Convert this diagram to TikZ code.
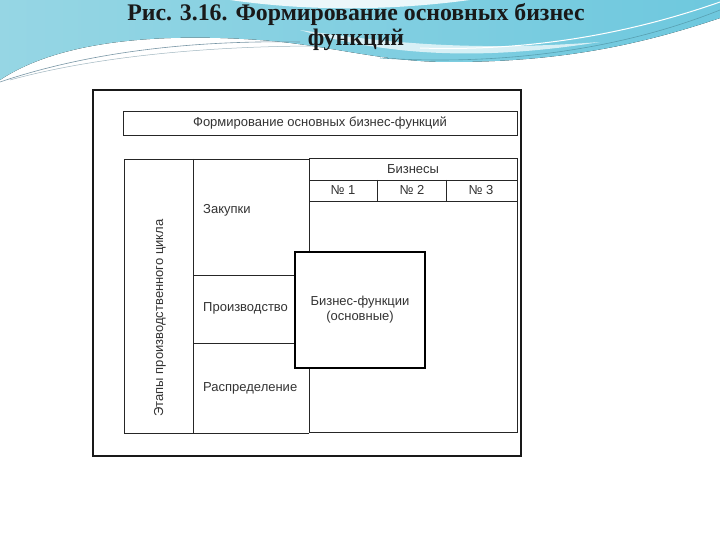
\documentclass[tikz,border=0pt]{standalone}
\usepackage{fontspec}
\setmainfont{Liberation Serif}
\newfontfamily\diagfont{Liberation Sans}
\begin{document}
\begin{tikzpicture}[x=1pt,y=-1pt,
  frame/.style={draw=black!90,line width=1.1pt},
  cell/.style={draw=black!85,line width=0.8pt},
  lbl/.style={font=\diagfont\fontsize{13}{15}\selectfont,text=black!80,inner sep=0pt},
  ttl/.style={font=\bfseries\fontsize{23.8}{24.5}\selectfont,text=black!90,align=center,inner sep=0pt}]
\definecolor{cyanA}{RGB}{150,214,228}
\definecolor{cyanB}{RGB}{110,200,222}
\definecolor{streak}{RGB}{120,150,165}
\useasboundingbox (0,0) rectangle (720,540);
\fill[white] (0,0) rectangle (720,540);
% background swoosh
\fill[left color=cyanA,right color=cyanB]
  (0,0) -- (720,0) -- (720,18) .. controls (640,45) and (560,62) .. (450,62)
  .. controls (380,62) and (330,45) .. (260,40)
  .. controls (160,33) and (60,40) .. (0,80) -- cycle;
\fill[white,opacity=0.85] (230,0) .. controls (300,10) and (380,12) .. (470,0) -- cycle;
\fill[white,opacity=0.7] (300,30) .. controls (380,42) and (470,52) .. (600,42)
  .. controls (500,58) and (400,60) .. (300,30) -- cycle;
\draw[streak,line width=0.6pt] (0,82) .. controls (80,55) and (180,40) .. (300,42);
\draw[streak!70,line width=0.5pt] (10,80) .. controls (90,58) and (200,46) .. (320,46);
\draw[cyanB!80!black,line width=0.6pt] (380,58) .. controls (500,66) and (620,50) .. (720,10);
\draw[white,line width=1pt] (420,48) .. controls (540,52) and (640,30) .. (720,2);
% title
\node[ttl] (title) at (356,27) {Рис. 3.16. Формирование основных бизнес\\функций};
% outer frame
\draw[frame] (93,90) rectangle (521,456);
% top bar
\node[cell,minimum width=394pt,minimum height=24pt,inner sep=0pt,
  font=\diagfont\fontsize{13}{15}\selectfont,text=black!80] (bar) at (320,123) {Формирование основных бизнес-функций};
% left column
\draw[cell] (124,159) rectangle (193,433);
\node[lbl,rotate=90] (stages) at (160,318) {Этапы производственного цикла};
% stage column
\draw[cell] (193,159) -- (309,159);
\draw[cell] (193,159) -- (193,433);
\draw[cell] (193,275) -- (295,275);
\draw[cell] (193,343) -- (295,343);
\draw[cell] (124,433) -- (309,433);
\node[lbl,anchor=west] (zak) at (203,210) {Закупки};
\node[lbl,anchor=west] (proiz) at (203,308) {Производство};
\node[lbl,anchor=west] (rasp) at (203,388) {Распределение};
% business area
\draw[cell] (309,158) -- (517,158) -- (517,432) -- (309,432) -- (309,368);
\draw[cell] (309,252) -- (309,158);
\draw[cell] (309,180) -- (517,180);
\draw[cell] (309,201) -- (517,201);
\draw[cell] (377,180) -- (377,201);
\draw[cell] (446,180) -- (446,201);
\node[lbl] (biz) at (413,169) {Бизнесы};
\node[lbl] (n1) at (343,190) {№ 1};
\node[lbl] (n2) at (412,190) {№ 2};
\node[lbl] (n3) at (481,190) {№ 3};
% central box
\node[draw=black,line width=1.3pt,fill=white,minimum width=130pt,minimum height=116pt,
  inner sep=0pt,align=center,font=\diagfont\fontsize{13}{15}\selectfont,text=black!80]
  (bf) at (360,310) {Бизнес-функции\\(основные)};
\end{tikzpicture}
\end{document}
